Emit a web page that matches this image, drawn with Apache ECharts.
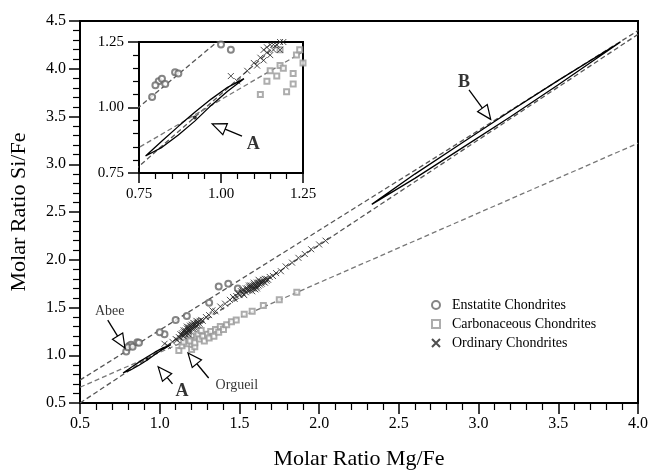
<!DOCTYPE html>
<html><head><meta charset="utf-8">
<script src="https://cdn.jsdelivr.net/npm/echarts@6/dist/echarts.min.js"></script>
<style>html,body{margin:0;padding:0;background:#fff}#c{width:651px;height:475px}</style>
</head><body><div id="c"></div>
<script>
// ---- data ----
const enstatite = [[0.79,1.04],[0.81,1.10],[0.82,1.11],[0.80,1.085],[0.83,1.09],[0.86,1.135],[0.87,1.13],[1.03,1.22],[1.00,1.24],[1.17,1.41],[1.10,1.37],[1.31,1.55],[1.37,1.72],[1.43,1.75],[1.49,1.70]];
const carbonaceous = [[1.12,1.05],[1.14,1.10],[1.17,1.12],[1.18,1.16],[1.19,1.15],[1.20,1.06],[1.22,1.09],[1.22,1.13],[1.23,1.20],[1.24,1.22],[1.18,1.22],[1.25,1.17],[1.27,1.20],[1.28,1.15],[1.30,1.22],[1.31,1.18],[1.32,1.25],[1.34,1.20],[1.35,1.27],[1.37,1.24],[1.38,1.30],[1.40,1.27],[1.42,1.32],[1.45,1.35],[1.48,1.37],[1.53,1.43],[1.58,1.46],[1.65,1.52],[1.75,1.58],[1.86,1.66],[1.26,1.26],[1.15,1.14]];
const ordinary = [[1.03,1.12],[1.05,1.10],[1.08,1.14],[1.10,1.17],[1.11,1.16],[1.12,1.19],[1.13,1.18],[1.14,1.21],[1.14,1.23],[1.15,1.20],[1.15,1.24],[1.16,1.22],[1.16,1.26],[1.17,1.24],[1.17,1.28],[1.18,1.25],[1.18,1.29],[1.19,1.27],[1.19,1.31],[1.20,1.28],[1.20,1.32],[1.21,1.30],[1.22,1.29],[1.22,1.33],[1.23,1.31],[1.24,1.35],[1.25,1.33],[1.26,1.37],[1.27,1.36],[1.29,1.40],[1.31,1.42],[1.33,1.47],[1.35,1.46],[1.38,1.51],[1.41,1.54],[1.44,1.58],[1.46,1.61],[1.48,1.62],[1.49,1.65],[1.50,1.63],[1.51,1.67],[1.52,1.65],[1.53,1.68],[1.54,1.66],[1.55,1.70],[1.56,1.68],[1.57,1.71],[1.58,1.73],[1.59,1.70],[1.60,1.74],[1.61,1.72],[1.62,1.76],[1.63,1.74],[1.64,1.77],[1.65,1.79],[1.66,1.76],[1.67,1.80],[1.68,1.79],[1.69,1.82],[1.71,1.83],[1.73,1.86],[1.76,1.88],[1.79,1.93],[1.83,1.97],[1.87,2.02],[1.91,2.06],[1.95,2.11],[2.00,2.16],[2.04,2.20],[1.56,1.73],[1.60,1.69],[1.58,1.67],[1.53,1.63],[1.47,1.59],[1.62,1.79],[1.21,1.34],[1.18,1.22],
  [1.13,1.22],[1.15,1.26],[1.16,1.24],[1.17,1.30],[1.18,1.27],[1.19,1.29],[1.20,1.30],[1.21,1.32],[1.22,1.31],[1.23,1.34],[1.24,1.32],[1.25,1.36],[1.19,1.25],[1.21,1.28],[1.23,1.36],
  [1.52,1.68],[1.54,1.70],[1.55,1.68],[1.57,1.73],[1.58,1.70],[1.59,1.74],[1.60,1.72],[1.61,1.76],[1.62,1.73],[1.63,1.77],[1.64,1.75],[1.65,1.77],[1.66,1.80],[1.67,1.78],[1.56,1.71],[1.59,1.76],[1.61,1.70]];
const fitEnstatite = [[0.5,0.74],[4.0,4.40]];
const fitOrdinary = [[0.5,0.50],[4.0,4.36]];
const fitCarbonaceous = [[0.5,0.665],[4.0,3.22]];
const ellipseA = [[0.77,0.815],[0.82,0.872],[0.87,0.928],[0.92,0.982],[0.97,1.032],[1.02,1.077],[1.07,1.11],[1.02,1.062],[0.97,1.008],[0.92,0.948],[0.87,0.895],[0.82,0.848],[0.77,0.815]];
const ellipseB = [[2.33,2.58],[2.6,2.897],[2.9,3.228],[3.2,3.557],[3.5,3.878],[3.89,4.28],[3.5,3.832],[3.2,3.498],[2.9,3.174],[2.6,2.852],[2.33,2.58]];
const centerA = [[0.92,0.962]];
const arrowsMain = [[0.674,1.367,0.782,1.075],[1.307,0.762,1.177,1.024],[1.08,0.70,0.99,0.88],[2.94,3.78,3.076,3.47]];
const labelsMain = [{name:'Abee',value:[0.686,1.457]},{name:'Orgueil',value:[1.484,0.68]},{name:'A',value:[1.139,0.621]},{name:'B',value:[2.908,3.855]}];
const arrowsInset = [[1.064,0.891,0.973,0.9375]];
const labelsInset = [{name:'A',value:[1.098,0.861]}];
const legendNames = ['Enstatite Chondrites','Carbonaceous Chondrites','Ordinary Chondrites'];

// ---- styling ----
const FONT = '"Liberation Serif","Times New Roman",serif';
const CROSS = 'path://M0,0L10,10M10,0L0,10';
const labelStyle = {
  'Abee':{fontSize:14,fontWeight:'normal'},
  'Orgueil':{fontSize:14,fontWeight:'normal'},
  'A':{fontSize:18,fontWeight:'bold'},
  'B':{fontSize:18,fontWeight:'bold'}
};

function axis(min,max,interval,opt){
  return {
    type:'value',min,max,interval,gridIndex:opt.grid,z:opt.z,
    axisLine:{show:true,onZero:false,lineStyle:{color:'#000',width:2}},
    axisTick:{show:true,inside:false,length:opt.tick,lineStyle:{color:'#000',width:1.5}},
    minorTick:{show:true,splitNumber:5,length:opt.minor,lineStyle:{color:'#000',width:1.2}},
    splitLine:{show:false},minorSplitLine:{show:false},
    axisLabel:{color:'#000',fontFamily:FONT,fontSize:opt.font,margin:opt.margin,
      formatter:v=>v.toFixed(opt.dec)},
    name:opt.name||'',nameLocation:'middle',nameGap:opt.nameGap||0,
    nameTextStyle:{color:'#000',fontFamily:FONT,fontSize:22}
  };
}

function renderArrow(params, api){
  const p1 = api.coord([api.value(0),api.value(1)]);
  const p2 = api.coord([api.value(2),api.value(3)]);
  const dx=p2[0]-p1[0], dy=p2[1]-p1[1];
  const len=Math.hypot(dx,dy), ux=dx/len, uy=dy/len;
  const hl=14, hw=6;
  const bx=p2[0]-ux*hl, by=p2[1]-uy*hl, nx=-uy, ny=ux;
  return {type:'group',children:[
    {type:'line',shape:{x1:p1[0],y1:p1[1],x2:bx,y2:by},style:{stroke:'#000',lineWidth:1.3}},
    {type:'polygon',shape:{points:[[p2[0],p2[1]],[bx+nx*hw,by+ny*hw],[bx-nx*hw,by-ny*hw]]},
     style:{fill:'#fff',stroke:'#000',lineWidth:1.2}}
  ]};
}

function fitLine(data,g,color,z){
  return {type:'line',data,xAxisIndex:g,yAxisIndex:g,symbol:'none',clip:true,silent:true,z,
    lineStyle:{color,width:1.3,type:[5,3]},animation:false};
}
function scatterSet(g,z,withNames){
  return [
    {type:'scatter',name:withNames?legendNames[0]:'e'+g,data:enstatite,xAxisIndex:g,yAxisIndex:g,z,clip:true,
      symbol:'emptyCircle',symbolSize:6,itemStyle:{color:'#666',borderColor:'#666',borderWidth:1}},
    {type:'scatter',name:withNames?legendNames[1]:'c'+g,data:carbonaceous,xAxisIndex:g,yAxisIndex:g,z,clip:true,
      symbol:'emptyRect',symbolSize:5,itemStyle:{color:'#999',borderColor:'#999',borderWidth:1}},
    {type:'scatter',name:withNames?legendNames[2]:'o'+g,data:ordinary,xAxisIndex:g,yAxisIndex:g,z,clip:true,
      symbol:CROSS,symbolSize:6,itemStyle:{color:'rgba(0,0,0,0)',borderColor:'#222',borderWidth:1}}
  ];
}
function shape(data,g,z){
  return {type:'line',data,xAxisIndex:g,yAxisIndex:g,symbol:'none',clip:true,z,silent:true,
    lineStyle:{color:'#000',width:1.3}};
}
function labels(data,g,z){
  return {type:'scatter',data:data.map(d=>({name:d.name,value:d.value,
      label:{show:true,position:'inside',formatter:'{b}',color:'#000',fontFamily:FONT,
        fontSize:labelStyle[d.name].fontSize,fontWeight:labelStyle[d.name].fontWeight}})),
    xAxisIndex:g,yAxisIndex:g,symbolSize:0,z,silent:true,clip:false};
}
function arrows(data,g,z){
  return {type:'custom',data,xAxisIndex:g,yAxisIndex:g,renderItem:renderArrow,z,clip:false,silent:true};
}

const option = {
  animation:false,
  backgroundColor:'#fff',
  grid:[
    {left:77,top:21,width:564,height:397,show:true,borderColor:'#000',borderWidth:2,backgroundColor:'#fff',z:0},
    {left:139,top:42,width:164,height:131,show:true,borderColor:'#000',borderWidth:2,backgroundColor:'#fff',z:5}
  ],
  xAxis:[
    axis(0.5,4.0,0.5,{grid:0,z:1,tick:11,minor:7,font:16,margin:13,dec:1,name:'Molar Ratio Mg/Fe',nameGap:45}),
    axis(0.75,1.25,0.25,{grid:1,z:6,tick:10,minor:6,font:15,margin:14,dec:2})
  ],
  yAxis:[
    axis(0.5,4.5,0.5,{grid:0,z:1,tick:11,minor:7,font:16,margin:14,dec:1,name:'Molar Ratio Si/Fe',nameGap:50}),
    axis(0.75,1.25,0.25,{grid:1,z:6,tick:11,minor:6,font:15,margin:15,dec:2})
  ],
  legend:{
    data:legendNames,orient:'vertical',left:426,top:293,itemWidth:8,itemHeight:8,itemGap:5,
    textStyle:{color:'#000',fontFamily:FONT,fontSize:14,padding:[0,0,0,7]},selectedMode:false
  },
  series:[
    fitLine(fitEnstatite,0,'#555',2),
    fitLine(fitOrdinary,0,'#555',2),
    fitLine(fitCarbonaceous,0,'#777',2),
    ...scatterSet(0,3,true),
    shape(ellipseA,0,4),
    shape(ellipseB,0,4),
    {type:'scatter',data:centerA,xAxisIndex:0,yAxisIndex:0,symbolSize:3,z:4,itemStyle:{color:'#000'}},
    arrows(arrowsMain,0,4),
    labels(labelsMain,0,4),
    fitLine(fitEnstatite,1,'#555',7),
    fitLine(fitOrdinary,1,'#555',7),
    fitLine(fitCarbonaceous,1,'#777',7),
    ...scatterSet(1,8,false),
    shape(ellipseA,1,9),
    {type:'scatter',data:centerA,xAxisIndex:1,yAxisIndex:1,symbolSize:4,z:9,itemStyle:{color:'#000'}},
    arrows(arrowsInset,1,9),
    labels(labelsInset,1,9)
  ]
};
const chart = echarts.init(document.getElementById('c'),null,{renderer:'canvas'});
chart.setOption(option);
</script></body></html>
